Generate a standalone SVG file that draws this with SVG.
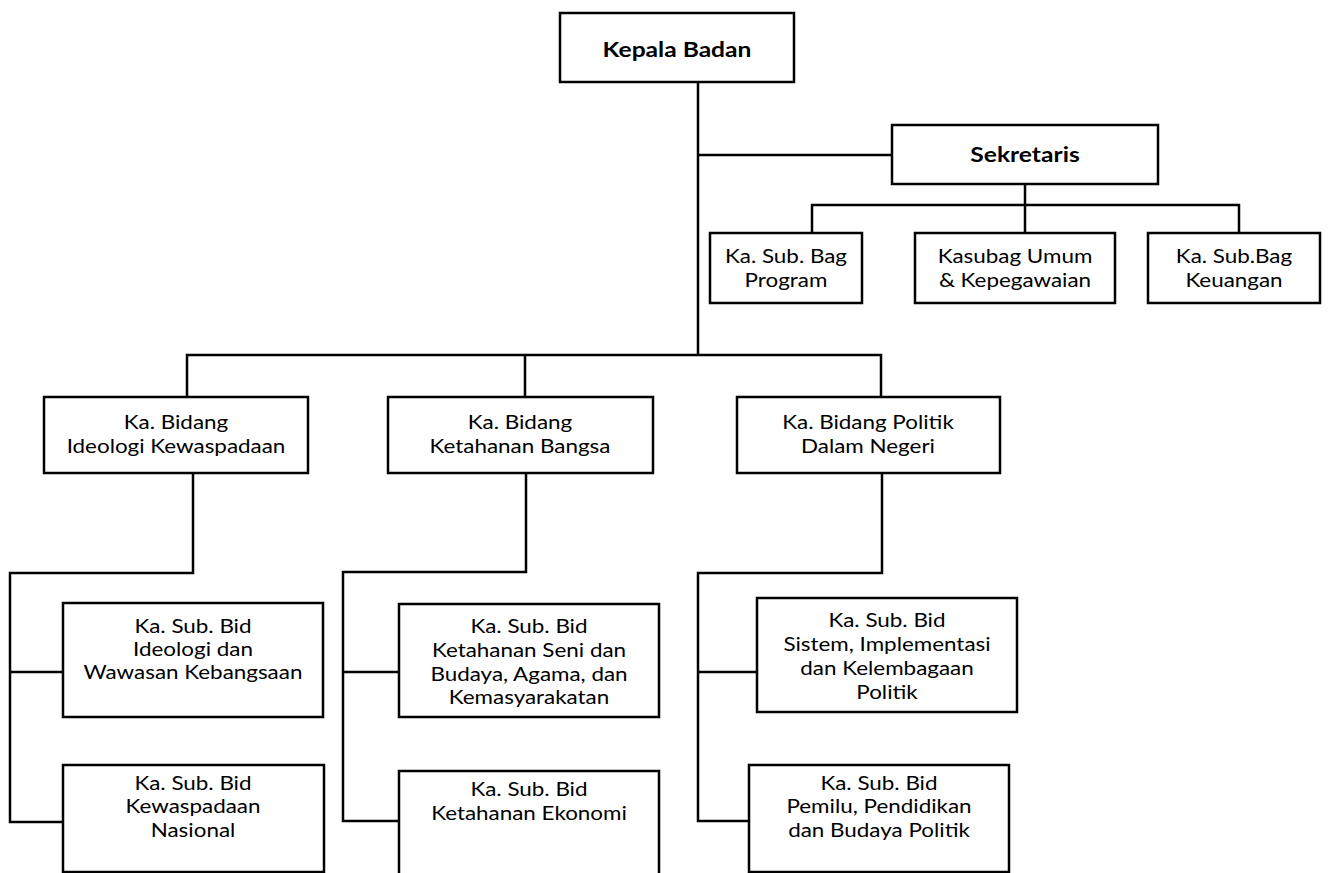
<svg xmlns="http://www.w3.org/2000/svg" width="1329" height="873" viewBox="0 0 1329 873">
<style>
rect{fill:#fff;stroke:#000;stroke-width:2.5}
text{font-family:Lato,"Open Sans",sans-serif;font-size:19px;text-anchor:middle;fill:#000}
.b{font-weight:bold;font-size:20.5px}
#connectors path{fill:none;stroke:#000;stroke-width:2.5}
</style>
<rect x="0" y="0" width="1329" height="873" style="stroke:none"/>
<g id="connectors">
<path d="M698,82 V355"/>
<path d="M698,155 H892"/>
<path d="M1025,184 V233"/>
<path d="M812,233 V205 H1239 V233"/>
<path d="M187,397 V355 H881 V397"/>
<path d="M525,355 V397"/>
<path d="M193,473 V573 H10 V822 H63"/>
<path d="M10,672 H63"/>
<path d="M526,473 V572 H343 V821 H399"/>
<path d="M343,672 H399"/>
<path d="M882,473 V573 H698 V821 H749"/>
<path d="M698,672 H757"/>
</g>
<g id="n-kepala"><rect x="560" y="13" width="234" height="69"/><g transform="translate(677 0) scale(1.2 1)"><text class="b" y="57">Kepala Badan</text></g></g>
<g id="n-sekretaris"><rect x="892" y="125" width="266" height="59"/><g transform="translate(1025 0) scale(1.2 1)"><text class="b" y="162">Sekretaris</text></g></g>
<g id="n-program"><rect x="710" y="233" width="152" height="70"/><g transform="translate(786 0) scale(1.18 1)"><text y="263">Ka. Sub. Bag</text><text y="287">Program</text></g></g>
<g id="n-umum"><rect x="915" y="233" width="200" height="70"/><g transform="translate(1015 0) scale(1.18 1)"><text y="263">Kasubag Umum</text><text y="287">&amp; Kepegawaian</text></g></g>
<g id="n-keuangan"><rect x="1148" y="233" width="172" height="70"/><g transform="translate(1234 0) scale(1.18 1)"><text y="263">Ka. Sub.Bag</text><text y="287">Keuangan</text></g></g>
<g id="n-bid-ideologi"><rect x="44" y="397" width="264" height="76"/><g transform="translate(176 0) scale(1.18 1)"><text y="429">Ka. Bidang</text><text y="453">Ideologi Kewaspadaan</text></g></g>
<g id="n-bid-ketahanan"><rect x="388" y="397" width="265" height="76"/><g transform="translate(520 0) scale(1.18 1)"><text y="429">Ka. Bidang</text><text y="453">Ketahanan Bangsa</text></g></g>
<g id="n-bid-politik"><rect x="737" y="397" width="263" height="76"/><g transform="translate(868 0) scale(1.18 1)"><text y="429">Ka. Bidang Politik</text><text y="453">Dalam Negeri</text></g></g>
<g id="n-sub-wawasan"><rect x="63" y="603" width="260" height="114"/><g transform="translate(193 0) scale(1.18 1)"><text y="633">Ka. Sub. Bid</text><text y="656">Ideologi dan</text><text y="679">Wawasan Kebangsaan</text></g></g>
<g id="n-sub-kewaspadaan"><rect x="63" y="765" width="261" height="107"/><g transform="translate(193 0) scale(1.18 1)"><text y="790">Ka. Sub. Bid</text><text y="813">Kewaspadaan</text><text y="837">Nasional</text></g></g>
<g id="n-sub-seni"><rect x="399" y="604" width="260" height="113"/><g transform="translate(529 0) scale(1.18 1)"><text y="633">Ka. Sub. Bid</text><text y="657">Ketahanan Seni dan</text><text y="681">Budaya, Agama, dan</text><text y="704">Kemasyarakatan</text></g></g>
<g id="n-sub-ekonomi"><rect x="399" y="771" width="260" height="120"/><g transform="translate(529 0) scale(1.18 1)"><text y="796">Ka. Sub. Bid</text><text y="820">Ketahanan Ekonomi</text></g></g>
<g id="n-sub-sistem"><rect x="757" y="598" width="260" height="114"/><g transform="translate(887 0) scale(1.18 1)"><text y="627">Ka. Sub. Bid</text><text y="651">Sistem, Implementasi</text><text y="675">dan Kelembagaan</text><text y="699">Politik</text></g></g>
<g id="n-sub-pemilu"><rect x="749" y="765" width="260" height="107"/><g transform="translate(879 0) scale(1.18 1)"><text y="790">Ka. Sub. Bid</text><text y="813">Pemilu, Pendidikan</text><text y="837">dan Budaya Politik</text></g></g>
</svg>
